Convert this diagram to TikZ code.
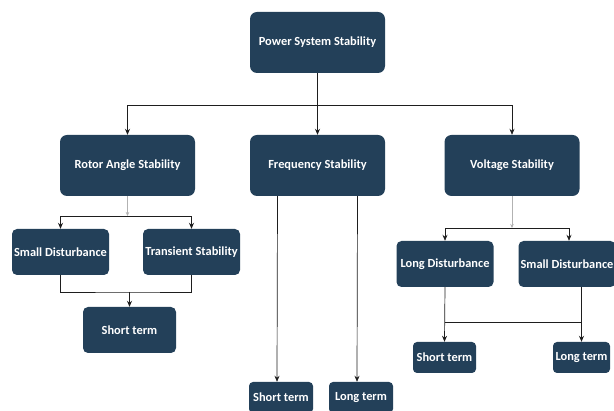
\documentclass[tikz,border=0pt]{standalone}
\usepackage{fontspec}
\setmainfont{Carlito}
\usetikzlibrary{arrows.meta}
\definecolor{boxblue}{HTML}{234059}
\definecolor{wire}{HTML}{1e1e1e}

\begin{document}
\begin{tikzpicture}[x=1pt, y=-1pt, font=\bfseries\fontsize{12.4}{14}\selectfont,
  box/.style={fill=boxblue, text=white, rounded corners=7pt, minimum width=135pt, minimum height=61pt, inner sep=1pt},
  sub/.style={box, rounded corners=5pt, minimum width=97pt, minimum height=46pt},
  leaf/.style={box, rounded corners=4pt, minimum width=63pt, minimum height=31pt},
  arr/.style={-{Stealth[length=6pt, width=5pt]}, wire, line width=0.7pt},
  bar/.style={wire, line width=0.7pt},
  feed/.style={-{Stealth[length=4pt, width=3.5pt]}, gray!60, line width=0.5pt}
]
  \useasboundingbox (0,0) rectangle (614,411);

  % top levels
  \node[box] (root) at (317.5,42.5) {Power System Stability};
  \node[box] (rotor) at (127.5,165.5) {Rotor Angle Stability};
  \node[box] (freq) at (317.5,165.5) {Frequency Stability};
  \node[box] (volt) at (512,165.5) {Voltage Stability};

  % rotor angle branch
  \node[sub] (sdis1) at (60.5,252) {Small Disturbance};
  \node[sub] (trans) at (191.5,252) {Transient Stability};
  \node[sub, minimum width=93pt] (short1) at (129.5,330) {Short term};

  % voltage branch
  \node[sub] (ldis) at (445,264) {Long Disturbance};
  \node[sub] (sdis2) at (567,264) {Small Disturbance};
  \node[leaf] (short2) at (444.5,357.5) {Short term};
  \node[leaf, minimum width=57pt] (long2) at (581.5,357.5) {Long term};

  % frequency branch
  \node[leaf, minimum width=64pt] (short3) at (281,397.5) {Short term};
  \node[leaf, minimum width=64pt] (long3) at (361,397.5) {Long term};

  \coordinate (split) at (317.5,105);
  \coordinate (rsplit) at (127.5,216);
  \coordinate (rjoin) at (129.5,292);
  \coordinate (vsplit) at (512,228);
  \coordinate (vjoin) at (445,322);

  \draw[arr] (root.south) -- (freq.north);
  \draw[arr] (split) -| (rotor.north);
  \draw[arr] (split) -| (volt.north);

  \draw[feed] (rotor.south) -- (rsplit);
  \draw[arr] (rsplit) -| (sdis1.north);
  \draw[arr] (rsplit) -| (trans.north);
  \draw[bar] (sdis1.south) |- (rjoin) -| (trans.south);
  \draw[arr] (rjoin) -- (short1.north);

  \draw[arr] ([xshift=-40pt]freq.south) -- ([xshift=-4pt]short3.north);
  \draw[arr] ([xshift=40pt]freq.south) -- ([xshift=-4pt]long3.north);

  \draw[feed] (volt.south) -- (vsplit);
  \draw[arr] (vsplit) -| (ldis.north);
  \draw[arr] (vsplit) -| ([xshift=2pt]sdis2.north);
  \draw[arr] (ldis.south) -- (short2.north);
  \draw[arr] ([xshift=14.5pt]sdis2.south) -- (long2.north);
  \draw[bar] (vjoin) -- (vjoin -| long2.north);
\end{tikzpicture}
\end{document}
